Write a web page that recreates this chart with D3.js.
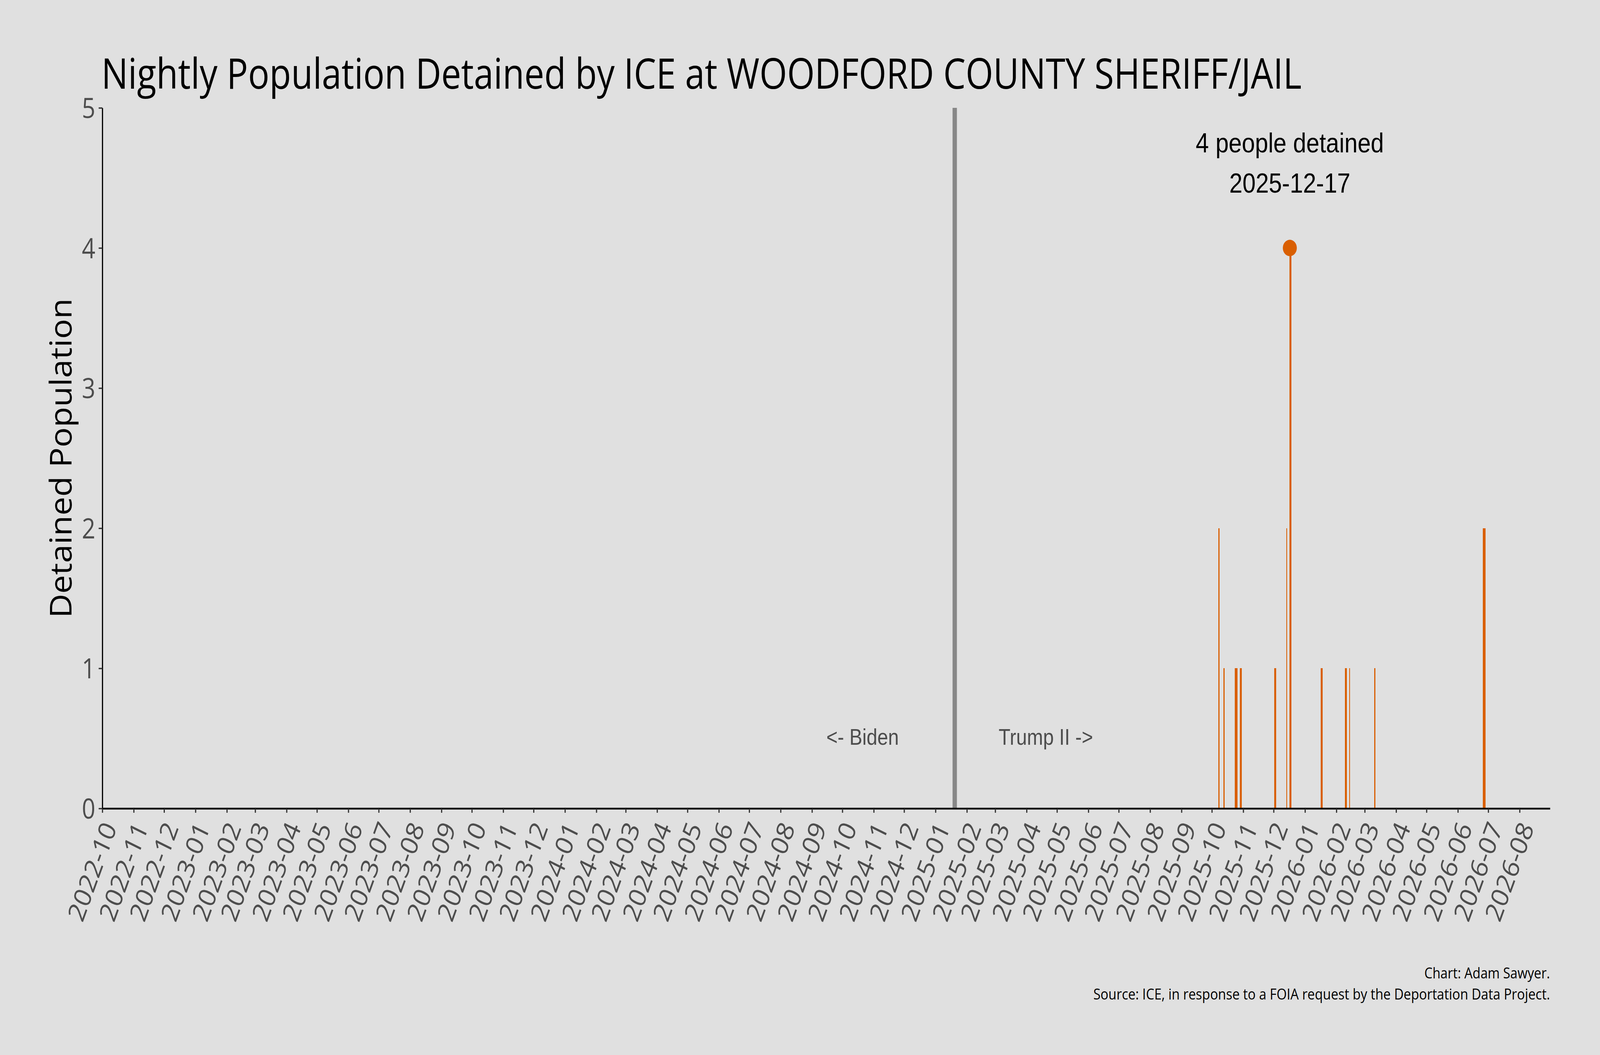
<!DOCTYPE html>
<html>
<head>
<meta charset="utf-8">
<script src="https://cdn.jsdelivr.net/npm/d3@7"></script>
<style>
  html, body { margin: 0; padding: 0; background: #e0e0e0; overflow: hidden; width: 100vw; height: 100vh; }
  svg { display: block; width: 100vw; height: 100vh; }
</style>
</head>
<body>
<script>
// ---------------- data ----------------
const facility = "WOODFORD COUNTY SHERIFF/JAIL";
const dates = [
  "2025-10-08", "2025-10-13", "2025-10-24", "2025-10-25", "2025-10-26",
  "2025-10-29", "2025-10-30", "2025-12-02", "2025-12-03", "2025-12-14",
  "2025-12-17", "2025-12-18", "2026-01-17", "2026-01-18", "2026-02-10",
  "2026-02-11", "2026-02-14", "2026-03-11", "2026-06-26", "2026-06-27",
  "2026-06-28"
];
const values = [
  2, 1, 1, 1, 1,
  1, 1, 1, 1, 2,
  4, 4, 1, 1, 1,
  1, 1, 1, 2, 2,
  2
];
const yTicks = [0, 1, 2, 3, 4, 5];
const xStart = "2022-10-01";
const xEnd = "2026-08-31";
const inauguration = "2025-01-20";
const eraLabels = ["<- Biden", "Trump II ->"];
const captionLines = [
  "Chart: Adam Sawyer.",
  "Source: ICE, in response to a FOIA request by the Deportation Data Project."
];
const yTitle = "Detained Population";

// ---------------- setup ----------------
const W = 4800, H = 2700;
const BAR = "#d95f02";
const SANS = "'Open Sans', 'Noto Sans', sans-serif";
const ARIAL = "'Liberation Sans', Arial, sans-serif";
const DAY = 24 * 3600 * 1000;
const parse = d3.utcParse("%Y-%m-%d");

const svg = d3.select("body").append("svg")
  .attr("viewBox", `0 0 ${W} ${H}`)
  .attr("preserveAspectRatio", "none");
svg.append("rect").attr("width", W).attr("height", H).attr("fill", "#e0e0e0");

const x = d3.scaleUtc()
  .domain([parse(xStart), parse(xEnd)])
  .range([307, 4650]);
const y = d3.scaleLinear()
  .domain([0, 5])
  .range([2069, 276]);

const data = dates.map((d, i) => ({ date: parse(d), value: values[i] }));

// ---------------- bars ----------------
svg.append("g")
  .attr("shape-rendering", "crispEdges")
  .selectAll("rect")
  .data(data)
  .join("rect")
  .attr("x", d => x(new Date(+d.date - DAY / 2)))
  .attr("width", d => x(new Date(+d.date + DAY / 2)) - x(new Date(+d.date - DAY / 2)))
  .attr("y", d => y(d.value))
  .attr("height", d => y(0) - y(d.value))
  .attr("fill", BAR);

// ---------------- inauguration line ----------------
const inaug = parse(inauguration);
svg.append("line")
  .attr("x1", x(inaug)).attr("x2", x(inaug))
  .attr("y1", y(5)).attr("y2", y(0))
  .attr("stroke", "#878787")
  .attr("stroke-width", 13);

// era labels
const eraDates = [d3.utcDay.offset(inaug, -91), d3.utcDay.offset(inaug, 90)];
svg.append("g").selectAll("text")
  .data(eraLabels)
  .join("text")
  .attr("x", (d, i) => x(eraDates[i]))
  .attr("y", y(0.5) + 16)
  .attr("text-anchor", "middle")
  .attr("font-family", ARIAL)
  .attr("font-size", 58)
  .attr("fill", "#4d4d4d")
  .text(d => d);

// ---------------- axes ----------------
const xTickVals = d3.utcMonth.range(parse(xStart), parse(xEnd));
const xAxis = d3.axisBottom(x)
  .tickValues(xTickVals)
  .tickFormat(d3.utcFormat("%Y-%m"))
  .tickSize(11)
  .tickSizeOuter(0);
const gx = svg.append("g")
  .attr("transform", `translate(0,${y(0)})`)
  .call(xAxis);
gx.select(".domain").attr("stroke", "#000").attr("stroke-width", 4.5);
gx.selectAll(".tick line").attr("stroke", "#333").attr("stroke-width", 3.5);
gx.selectAll(".tick text")
  .attr("fill", "#4d4d4d")
  .attr("font-family", SANS)
  .attr("font-size", 71)
  .attr("text-anchor", "end")
  .attr("x", 0)
  .attr("y", 48)
  .attr("dy", null)
  .attr("transform", "translate(0,30) rotate(-67)");

const yAxis = d3.axisLeft(y)
  .tickValues(yTicks)
  .tickFormat(d3.format("d"))
  .tickSize(11)
  .tickPadding(10)
  .tickSizeOuter(0);
const gy = svg.append("g")
  .attr("transform", `translate(${x.range()[0]},0)`)
  .call(yAxis);
gy.select(".domain").attr("stroke", "#000").attr("stroke-width", 3.5);
gy.selectAll(".tick line").attr("stroke", "#333").attr("stroke-width", 3.5);
gy.selectAll(".tick text")
  .attr("fill", "#4d4d4d")
  .attr("font-family", SANS)
  .attr("font-size", 71)
  .attr("dy", "0.36em");

// ---------------- peak marker + annotation ----------------
const peak = data.reduce((a, b) => (b.value > a.value ? b : a));
svg.append("circle")
  .attr("cx", x(peak.date))
  .attr("cy", y(peak.value))
  .attr("r", 21)
  .attr("fill", BAR);

const annY = y(peak.value) - 142;
const ann = svg.append("g")
  .attr("font-family", ARIAL)
  .attr("font-size", 71)
  .attr("fill", "#000")
  .attr("text-anchor", "middle");
ann.append("text")
  .attr("x", x(peak.date))
  .attr("y", annY - 103)
  .text(`${peak.value} people detained`);
ann.append("text")
  .attr("x", x(peak.date))
  .attr("y", annY)
  .text(d3.utcFormat("%Y-%m-%d")(peak.date));

// ---------------- titles ----------------
svg.append("text")
  .attr("x", 304)
  .attr("y", 227)
  .attr("font-family", SANS)
  .attr("font-size", 108)
  .attr("fill", "#000")
  .attr("textLength", 3601)
  .attr("lengthAdjust", "spacingAndGlyphs")
  .text(`Nightly Population Detained by ICE at ${facility}`);

svg.append("text")
  .attr("transform", `translate(215,${(y(0) + y(5)) / 2}) rotate(-90)`)
  .attr("text-anchor", "middle")
  .attr("font-family", SANS)
  .attr("font-size", 91)
  .attr("fill", "#000")
  .attr("textLength", 818)
  .attr("lengthAdjust", "spacingAndGlyphs")
  .text(yTitle);

// caption
const capLens = [377, 1370];
const capY = [2504, 2558];
svg.append("g").selectAll("text")
  .data(captionLines)
  .join("text")
  .attr("x", (d, i) => x.range()[1] - capLens[i])
  .attr("y", (d, i) => capY[i])
  .attr("font-family", SANS)
  .attr("font-size", 38)
  .attr("fill", "#000")
  .attr("textLength", (d, i) => capLens[i])
  .attr("lengthAdjust", "spacingAndGlyphs")
  .text(d => d);
</script>
</body>
</html>
